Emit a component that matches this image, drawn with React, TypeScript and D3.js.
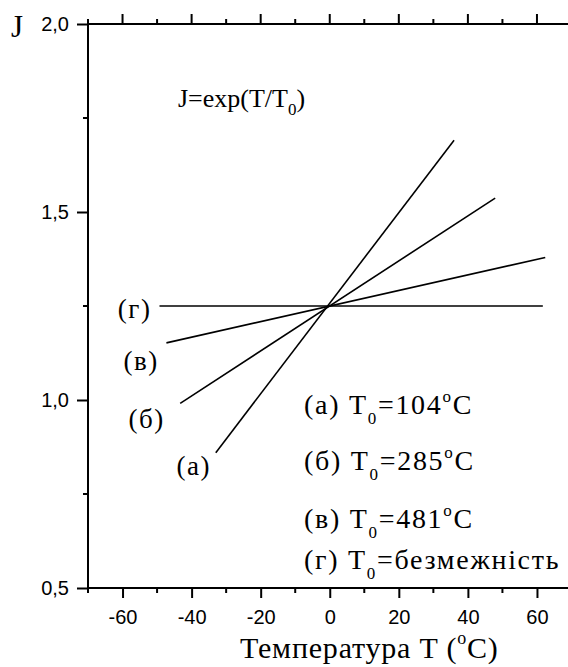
import { useRef, useEffect } from "react";
import * as d3 from "d3";

// curves: J vs temperature, all crossing at (0, 1.25)
const curveLabels = ["(а)", "(б)", "(в)", "(г)"];
const t0Values = ["104", "285", "481", "безмежність"];
const tStart = [-33, -43.3, -47.3, -49.3];
const tEnd = [36, 47.9, 62.4, 61.7];
const jStart = [0.86, 0.991, 1.152, 1.25];
const jEnd = [1.691, 1.537, 1.379, 1.25];

// where the curve letters sit (data coords)
const labelT = [-39.4, -53.0, -54.6, -56.5];
const labelJ = [0.823, 0.948, 1.103, 1.241];

const xMajorTicks = [-60, -40, -20, 0, 20, 40, 60];
const xMinorTicks = [-70, -50, -30, -10, 10, 30, 50];
const yMajorTicks = [0.5, 1.0, 1.5, 2.0];
const yMinorTicks = [0.75, 1.25, 1.75];

const SERIF = "'Liberation Serif', 'Times New Roman', serif";
const SANS = "'Liberation Sans', Arial, sans-serif";

const App = () => {
  const ref = useRef<SVGSVGElement>(null);
  const width = 568;
  const height = 667;

  useEffect(() => {
    if (!ref.current) return;
    const svg = d3.select(ref.current);
    svg.selectAll("*").remove();

    const x = d3.scaleLinear().domain([-70, 70]).range([88, 571.5]);
    const y = d3.scaleLinear().domain([0.5, 2]).range([588, 24]);

    const fmt = (d: number) => d.toFixed(1).replace(".", ",");

    // bottom axis
    const bottom = svg.append("g").attr("transform", `translate(0, ${y(0.5)})`);
    bottom
      .call(
        d3.axisBottom(x).tickValues(xMajorTicks).tickSize(10).tickPadding(12)
          .tickFormat((d) => String(d))
      )
      .call((g) => g.select(".domain").remove());
    bottom
      .selectAll(".minor")
      .data(xMinorTicks)
      .enter()
      .append("line")
      .attr("x1", (d) => x(d))
      .attr("x2", (d) => x(d))
      .attr("y1", 0)
      .attr("y2", 5);
    bottom.append("line").attr("x1", x(-70)).attr("x2", width).attr("y1", 0).attr("y2", 0);

    // top axis (ticks only)
    const top = svg.append("g").attr("transform", `translate(0, ${y(2)})`);
    top
      .selectAll(".major")
      .data(xMajorTicks)
      .enter()
      .append("line")
      .attr("x1", (d) => x(d))
      .attr("x2", (d) => x(d))
      .attr("y1", 0)
      .attr("y2", -10);
    top
      .selectAll(".minor")
      .data(xMinorTicks)
      .enter()
      .append("line")
      .attr("x1", (d) => x(d))
      .attr("x2", (d) => x(d))
      .attr("y1", 0)
      .attr("y2", -5);
    top.append("line").attr("x1", x(-70)).attr("x2", width).attr("y1", 0).attr("y2", 0);

    // left axis
    const left = svg.append("g").attr("transform", `translate(${x(-70)}, 0)`);
    left
      .call(d3.axisLeft(y).tickValues(yMajorTicks).tickSize(11).tickPadding(8).tickFormat((d) => fmt(+d)))
      .call((g) => g.select(".domain").remove());
    left
      .selectAll(".minor")
      .data(yMinorTicks)
      .enter()
      .append("line")
      .attr("x1", 0)
      .attr("x2", -5)
      .attr("y1", (d) => y(d))
      .attr("y2", (d) => y(d));
    left.append("line").attr("x1", 0).attr("x2", 0).attr("y1", y(2)).attr("y2", y(0.5));

    svg.selectAll("line").attr("stroke", "#000").attr("stroke-width", 2);
    svg
      .selectAll(".tick text")
      .attr("fill", "#000")
      .style("font-family", SANS)
      .style("font-size", "20px");

    // curves
    const line = d3
      .line<[number, number]>()
      .x((d) => x(d[0]))
      .y((d) => y(d[1]));
    const curves = curveLabels.map((_, i) => [
      [tStart[i], jStart[i]],
      [tEnd[i], jEnd[i]],
    ] as [number, number][]);
    svg
      .append("g")
      .selectAll("path")
      .data(curves)
      .enter()
      .append("path")
      .attr("d", (d) => line(d))
      .attr("fill", "none")
      .attr("stroke", "#000")
      .attr("stroke-width", 1.6);

    const serif = (sel: any, size: number, spacing = 0) =>
      sel
        .style("font-family", SERIF)
        .style("font-size", `${size}px`)
        .style("letter-spacing", `${spacing}px`)
        .attr("fill", "#000");

    // curve letters
    svg
      .append("g")
      .selectAll("text")
      .data(curveLabels)
      .enter()
      .append("text")
      .attr("x", (_d, i) => x(labelT[i]))
      .attr("y", (_d, i) => y(labelJ[i]))
      .attr("dy", "0.32em")
      .attr("text-anchor", "middle")
      .text((d) => d)
      .call(serif, 27, 1.5);

    // formula
    const formula = svg.append("text").attr("x", 178).attr("y", 107).call(serif, 26);
    formula.append("tspan").text("J=exp(T/T");
    formula.append("tspan").attr("dy", 8).style("font-size", "17px").text("0");
    formula.append("tspan").attr("dy", -8).text(")");

    // legend
    const legendY = [414, 470, 528, 569];
    curveLabels.forEach((lab, i) => {
      const t = svg.append("text").attr("x", 304).attr("y", legendY[i]).call(serif, 28, 1.7);
      t.append("tspan").text(`${lab} T`);
      t.append("tspan").attr("dy", 10).style("font-size", "17px").text("0");
      t.append("tspan").attr("dy", -10).text(`=${t0Values[i]}`);
      if (i < 3) {
        t.append("tspan").attr("dy", -12).style("font-size", "17px").text("o");
        t.append("tspan").attr("dy", 12).text("C");
      }
    });

    // axis titles
    const xt = svg.append("text").attr("x", 240).attr("y", 658).call(serif, 30, 0.8);
    xt.append("tspan").text("Температура T (");
    xt.append("tspan").attr("dy", -14).style("font-size", "18px").text("o");
    xt.append("tspan").attr("dy", 14).text("C)");

    svg.append("text").attr("x", 11).attr("y", 37).text("J").call(serif, 31);
  }, []);

  return (
    <div style={{ position: "absolute", left: 0, top: 0 }}>
      <svg ref={ref} width={width} height={height} style={{ display: "block", background: "#fff" }} />
    </div>
  );
};

export default App;
